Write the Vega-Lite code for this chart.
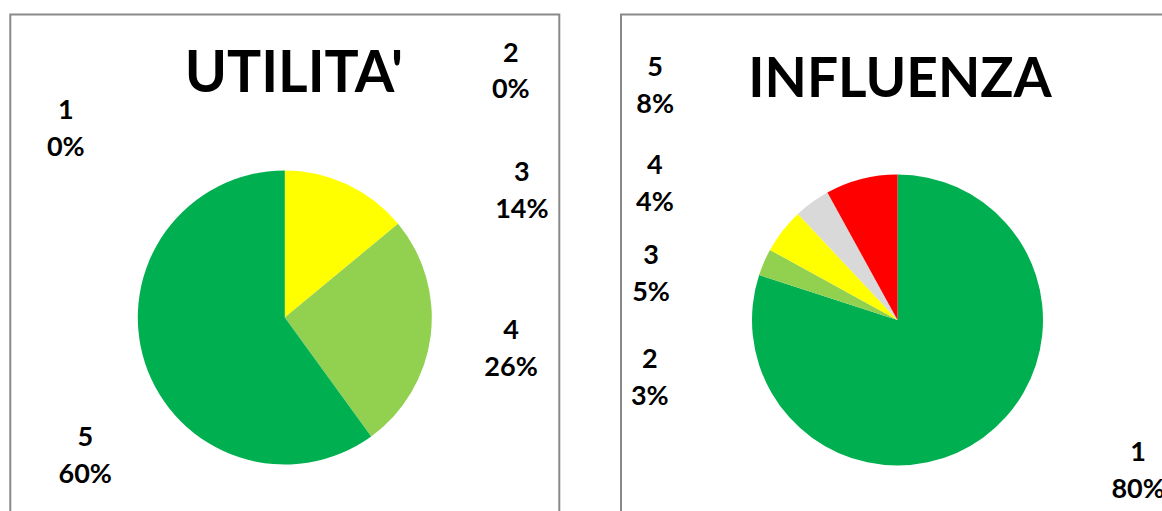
{
  "$schema": "https://vega.github.io/schema/vega-lite/v6.json",
  "background": "white",
  "padding": {"left": 9.3, "top": 13.5, "right": 0, "bottom": 0},
  "autosize": {"type": "pad"},
  "spacing": 61.7,
  "bounds": "flush",
  "config": {
    "view": {"stroke": "#898989", "strokeWidth": 2},
    "font": "Lato",
    "text": {"font": "Lato", "fontSize": 27, "fontWeight": "bold", "lineBreak": "\n", "lineHeight": 37, "align": "center", "baseline": "middle", "color": "#000000", "clip": true}
  },
  "resolve": {"scale": {"color": "independent", "theta": "independent"}},
  "hconcat": [
    {
      "width": 549,
      "height": 606,
      "view": {"stroke": "#898989", "strokeWidth": 2},
      "title": {"text": "UTILITA'", "font": "Lato", "fontSize": 57, "fontWeight": "bold", "color": "#000000", "anchor": "middle", "baseline": "alphabetic", "offset": 0, "dy": 134.5, "dx": 9},
      "data": {"values": [
        {"cat": "1", "v": 0, "lbl": "1\n0%"},
        {"cat": "2", "v": 0, "lbl": "2\n0%"},
        {"cat": "3", "v": 14, "lbl": "3\n14%"},
        {"cat": "4", "v": 26, "lbl": "4\n26%"},
        {"cat": "5", "v": 60, "lbl": "5\n60%"}
      ]},
      "layer": [
        {
          "mark": {"type": "arc", "radius": 147},
          "encoding": {
            "theta": {"field": "v", "type": "quantitative", "stack": true},
            "color": {"field": "cat", "type": "nominal", "scale": {"domain": ["1", "2", "3", "4", "5"], "range": ["#FF0000", "#D9D9D9", "#FFFF00", "#92D050", "#00B050"]}, "legend": null},
            "order": {"field": "cat", "type": "ordinal"}
          }
        },
        {
          "mark": {"type": "text", "clip": true, "radius": 188, "dx": -219, "dy": -18.5},
          "encoding": {
            "theta": {"field": "v", "type": "quantitative", "stack": true},
            "detail": {"field": "cat", "type": "nominal"},
            "order": {"field": "cat", "type": "ordinal"},
            "text": {"condition": {"test": "datum.cat === '1'", "field": "lbl"}, "value": ""}
          }
        },
        {
          "mark": {"type": "text", "clip": true, "radius": 245.5, "dx": 226, "dy": -18.5},
          "encoding": {
            "theta": {"field": "v", "type": "quantitative", "stack": true},
            "detail": {"field": "cat", "type": "nominal"},
            "order": {"field": "cat", "type": "ordinal"},
            "text": {"condition": {"test": "datum.cat === '2'", "field": "lbl"}, "value": ""}
          }
        },
        {
          "mark": {"type": "text", "clip": true, "radius": 214, "dx": 146, "dy": 49.5},
          "encoding": {
            "theta": {"field": "v", "type": "quantitative", "stack": true},
            "detail": {"field": "cat", "type": "nominal"},
            "order": {"field": "cat", "type": "ordinal"},
            "text": {"condition": {"test": "datum.cat === '3'", "field": "lbl"}, "value": ""}
          }
        },
        {
          "mark": {"type": "text", "clip": true, "radius": 220, "dx": 8, "dy": -14.5},
          "encoding": {
            "theta": {"field": "v", "type": "quantitative", "stack": true},
            "detail": {"field": "cat", "type": "nominal"},
            "order": {"field": "cat", "type": "ordinal"},
            "text": {"condition": {"test": "datum.cat === '4'", "field": "lbl"}, "value": ""}
          }
        },
        {
          "mark": {"type": "text", "clip": true, "radius": 233, "dx": 22, "dy": 48.5},
          "encoding": {
            "theta": {"field": "v", "type": "quantitative", "stack": true},
            "detail": {"field": "cat", "type": "nominal"},
            "order": {"field": "cat", "type": "ordinal"},
            "text": {"condition": {"test": "datum.cat === '5'", "field": "lbl"}, "value": ""}
          }
        }
      ]
    },
    {
      "width": 553,
      "height": 611,
      "view": {"stroke": "#898989", "strokeWidth": 2},
      "title": {"text": "INFLUENZA", "font": "Lato", "fontSize": 55, "fontWeight": "bold", "color": "#000000", "anchor": "middle", "baseline": "alphabetic", "offset": 0, "dy": 137.5, "dx": 2.5},
      "data": {"values": [
        {"cat": "1", "v": 80, "lbl": "1\n80%"},
        {"cat": "2", "v": 3, "lbl": "2\n3%"},
        {"cat": "3", "v": 5, "lbl": "3\n5%"},
        {"cat": "4", "v": 4, "lbl": "4\n4%"},
        {"cat": "5", "v": 8, "lbl": "5\n8%"}
      ]},
      "layer": [
        {
          "mark": {"type": "arc", "radius": 145.5},
          "encoding": {
            "theta": {"field": "v", "type": "quantitative", "stack": true},
            "color": {"field": "cat", "type": "nominal", "scale": {"domain": ["1", "2", "3", "4", "5"], "range": ["#00B050", "#92D050", "#FFFF00", "#D9D9D9", "#FF0000"]}, "legend": null},
            "order": {"field": "cat", "type": "ordinal"}
          }
        },
        {
          "mark": {"type": "text", "clip": true, "radius": 264, "dx": 85.5, "dy": -80.5},
          "encoding": {
            "theta": {"field": "v", "type": "quantitative", "stack": true},
            "detail": {"field": "cat", "type": "nominal"},
            "order": {"field": "cat", "type": "ordinal"},
            "text": {"condition": {"test": "datum.cat === '1'", "field": "lbl"}, "value": ""}
          }
        },
        {
          "mark": {"type": "text", "clip": true, "radius": 204, "dx": -60.5, "dy": 121.5},
          "encoding": {
            "theta": {"field": "v", "type": "quantitative", "stack": true},
            "detail": {"field": "cat", "type": "nominal"},
            "order": {"field": "cat", "type": "ordinal"},
            "text": {"condition": {"test": "datum.cat === '2'", "field": "lbl"}, "value": ""}
          }
        },
        {
          "mark": {"type": "text", "clip": true, "radius": 222, "dx": -71, "dy": 72.5},
          "encoding": {
            "theta": {"field": "v", "type": "quantitative", "stack": true},
            "detail": {"field": "cat", "type": "nominal"},
            "order": {"field": "cat", "type": "ordinal"},
            "text": {"condition": {"test": "datum.cat === '3'", "field": "lbl"}, "value": ""}
          }
        },
        {
          "mark": {"type": "text", "clip": true, "radius": 252, "dx": -94.5, "dy": 50.1},
          "encoding": {
            "theta": {"field": "v", "type": "quantitative", "stack": true},
            "detail": {"field": "cat", "type": "nominal"},
            "order": {"field": "cat", "type": "ordinal"},
            "text": {"condition": {"test": "datum.cat === '4'", "field": "lbl"}, "value": ""}
          }
        },
        {
          "mark": {"type": "text", "clip": true, "radius": 287, "dx": -171, "dy": 25.5},
          "encoding": {
            "theta": {"field": "v", "type": "quantitative", "stack": true},
            "detail": {"field": "cat", "type": "nominal"},
            "order": {"field": "cat", "type": "ordinal"},
            "text": {"condition": {"test": "datum.cat === '5'", "field": "lbl"}, "value": ""}
          }
        }
      ]
    }
  ]
}
